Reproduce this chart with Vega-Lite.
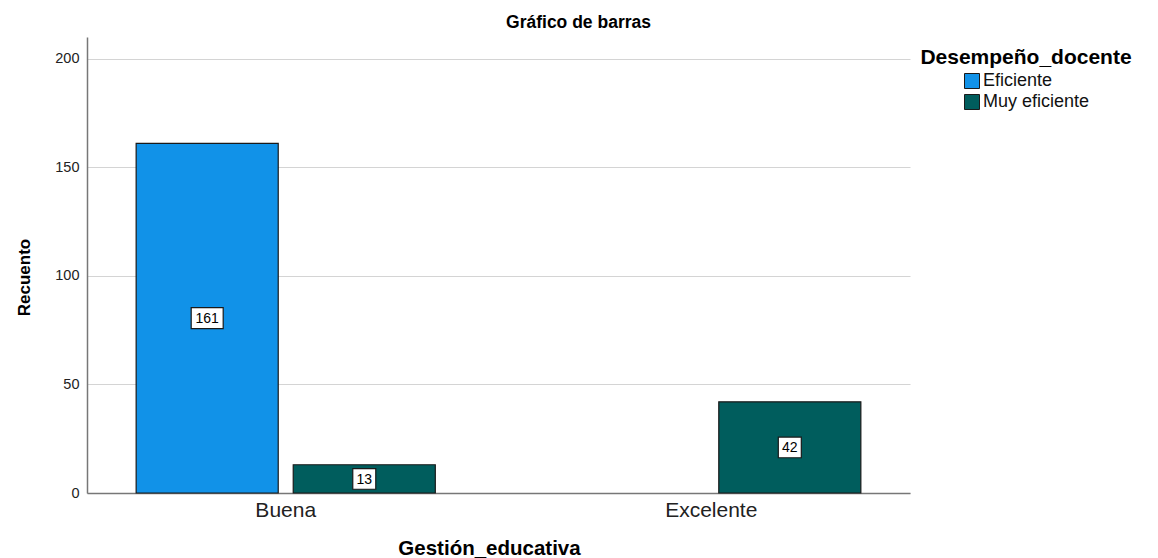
{
  "$schema": "https://vega.github.io/schema/vega-lite/v6.json",
  "width": 823,
  "height": 456,
  "autosize": {"type": "none"},
  "padding": {"left": 87, "top": 37, "right": 248, "bottom": 65},
  "background": "white",
  "title": {
    "text": "Gráfico de barras",
    "anchor": "middle",
    "frame": "group",
    "dx": 80,
    "dy": 18,
    "offset": 10,
    "baseline": "alphabetic",
    "font": "Liberation Sans",
    "fontSize": 17.5,
    "fontWeight": "bold",
    "color": "#000000"
  },
  "data": {
    "values": [
      {"gestion": "Buena", "desempeno": "Eficiente", "n": 161},
      {"gestion": "Buena", "desempeno": "Muy eficiente", "n": 13},
      {"gestion": "Excelente", "desempeno": "Muy eficiente", "n": 42}
    ]
  },
  "config": {
    "view": {"stroke": null},
    "font": "Liberation Sans"
  },
  "encoding": {
    "x": {
      "field": "gestion",
      "type": "nominal",
      "sort": ["Buena", "Excelente"],
      "scale": {"paddingInner": 0.297, "paddingOuter": 0.1155},
      "axis": {
        "title": "Gestión_educativa",
        "titleFont": "Liberation Sans",
        "titleFontSize": 20.5,
        "titleFontWeight": "bold",
        "titleColor": "#000000",
        "titlePadding": 18,
        "titleX": 402,
        "titleAlign": "center",
        "labelAngle": 0,
        "labelFontSize": 21,
        "labelColor": "#222222",
        "labelPadding": 6,
        "ticks": false,
        "domainColor": "#777777",
        "domainWidth": 1.5
      }
    },
    "xOffset": {
      "field": "desempeno",
      "type": "nominal",
      "sort": ["Eficiente", "Muy eficiente"],
      "scale": {"domain": ["Eficiente", "Muy eficiente"], "paddingInner": 0.0955, "paddingOuter": 0}
    }
  },
  "layer": [
    {
      "mark": {"type": "bar", "stroke": "#1a1a1a", "strokeWidth": 1.2, "opacity": 1},
      "encoding": {
        "y": {
          "field": "n",
          "type": "quantitative",
          "scale": {"domain": [0, 210], "nice": false},
          "axis": {
            "title": "Recuento",
            "titleFont": "Liberation Sans",
            "titleFontSize": 17,
            "titleFontWeight": "bold",
            "titleColor": "#000000",
            "titleAngle": 270,
            "titleBaseline": "middle",
            "titleAlign": "center",
            "titleX": -63,
            "titleY": 240,
            "values": [0, 50, 100, 150, 200],
            "labelFontSize": 14.5,
            "labelColor": "#222222",
            "labelPadding": 8,
            "ticks": false,
            "grid": true,
            "gridColor": "#d4d4d4",
            "gridWidth": 1.2,
            "domainColor": "#777777",
            "domainWidth": 1.5
          }
        },
        "color": {
          "field": "desempeno",
          "type": "nominal",
          "scale": {"domain": ["Eficiente", "Muy eficiente"], "range": ["#1192e8", "#005d5d"]},
          "legend": {
            "title": "Desempeño_docente",
            "orient": "none",
            "legendX": 833,
            "legendY": 10,
            "titleFontSize": 21,
            "titleFontWeight": "bold",
            "titleColor": "#000000",
            "titleAnchor": "middle",
            "titleLimit": 400,
            "titlePadding": 4,
            "labelFontSize": 18,
            "labelLimit": 300,
            "labelColor": "#111111",
            "labelOffset": 2,
            "symbolType": "square",
            "symbolSize": 225,
            "symbolStrokeColor": "#1a1a1a",
            "symbolStrokeWidth": 1,
            "symbolOpacity": 1,
            "rowPadding": 1
          }
        }
      }
    },
    {
      "transform": [{"calculate": "datum.n / 2", "as": "mid"}],
      "mark": {"type": "point", "filled": true, "fill": "white", "stroke": "#1a1a1a", "strokeWidth": 1.2, "opacity": 1},
      "encoding": {
        "y": {"field": "mid", "type": "quantitative"},
        "shape": {
          "condition": {"test": "datum.n >= 100", "value": "M-1,-0.656H1V0.656H-1Z"},
          "value": "M-1,-0.9H1V0.9H-1Z"
        },
        "size": {
          "condition": {"test": "datum.n >= 100", "value": 1024},
          "value": 529
        }
      }
    },
    {
      "transform": [{"calculate": "datum.n / 2", "as": "mid"}],
      "mark": {"type": "text", "fontSize": 14, "color": "#000000", "baseline": "middle", "dy": 1},
      "encoding": {
        "y": {"field": "mid", "type": "quantitative"},
        "text": {"field": "n", "type": "quantitative"}
      }
    }
  ]
}
